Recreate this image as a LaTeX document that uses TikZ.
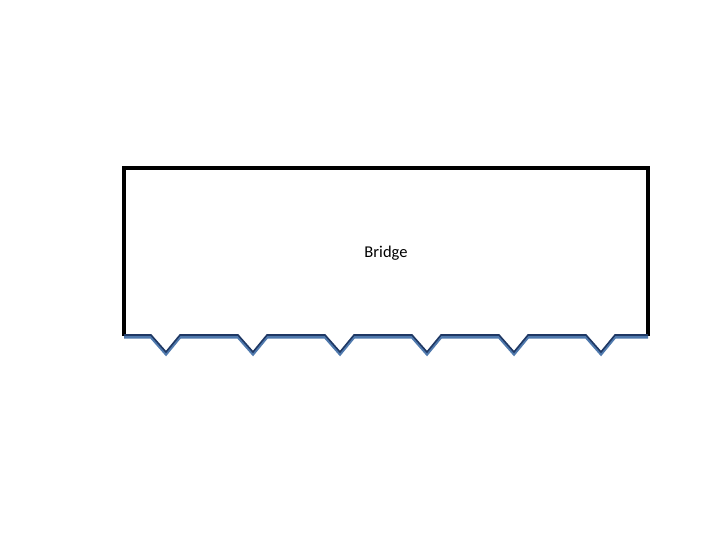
\documentclass[tikz,border=0pt]{standalone}
\usepackage{fontspec}
\setmainfont{Carlito}
\definecolor{edgeblue}{HTML}{4F79AD}
\definecolor{edgenavy}{HTML}{1F3864}
\tikzset{
  frame/.style={draw=black, line width=3.2pt},
  lowedge/.style={draw=edgeblue, line width=3pt, line join=miter},
  topedge/.style={draw=edgenavy, line width=1.6pt, line join=miter},
  lbl/.style={font=\fontsize{16.5}{18}\selectfont, inner sep=0pt}
}
\begin{document}
\begin{tikzpicture}[x=1pt,y=-1pt]
\useasboundingbox (0,0) rectangle (720,540);
\coordinate (bl) at (124,336);
\coordinate (tl) at (124,168);
\coordinate (tr) at (648,168);
\coordinate (br) at (648,336);
\draw[frame] (bl) -- (tl) -- (tr) -- (br);
\draw[lowedge] (124,337)
  -- (151,337) -- (166,354) -- (180,337)
  -- (238,337) -- (253,354) -- (267,337)
  -- (325,337) -- (340,354) -- (354,337)
  -- (412,337) -- (427,354) -- (441,337)
  -- (499,337) -- (514,354) -- (528,337)
  -- (586,337) -- (601,354) -- (615,337)
  -- (648,337);
\draw[topedge, yshift=1pt] (124,336)
  -- (151,336) -- (166,353) -- (180,336)
  -- (238,336) -- (253,353) -- (267,336)
  -- (325,336) -- (340,353) -- (354,336)
  -- (412,336) -- (427,353) -- (441,336)
  -- (499,336) -- (514,353) -- (528,336)
  -- (586,336) -- (601,353) -- (615,336)
  -- (648,336);
\node[lbl] (bridge) at (386,253) {Bridge};
\end{tikzpicture}
\end{document}
